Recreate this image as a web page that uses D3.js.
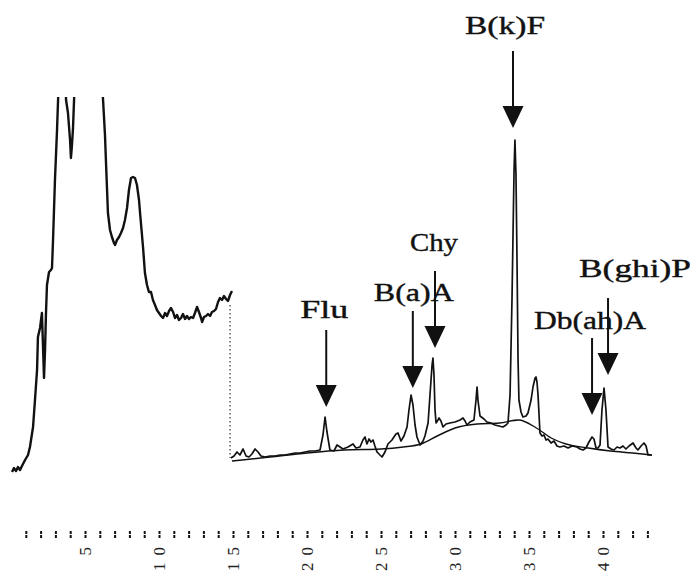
<html>
<head>
<style>
  body { margin: 0; background: #fff; }
  .trace { fill: none; stroke: #111; stroke-linejoin: round; }
  .lbl { font-family: "Liberation Serif", "DejaVu Serif", serif; fill: #111; stroke: #111; stroke-width: 0.4; }
</style>
</head>
<body>
<svg id="chart" width="690" height="573"></svg>
<script src="https://cdn.jsdelivr.net/npm/d3@7"></script>
<script>
// retention time (min) and detector signal, high-gain part
const leftTime = [0.07,0.20,0.34,0.47,0.61,0.74,0.95,1.15,1.28,1.49,1.62,1.76,1.82,1.96,2.09,2.16,2.23,2.30,2.36,2.43,2.57,2.70,2.77,2.84,2.97,3.11,3.18,3.31,3.51,3.65,3.72,3.85,3.99,4.05,4.12,4.19,4.26,4.39,4.80,5.47,5.95,6.15,6.22,6.35,6.42,6.55,6.69,6.82,6.96,7.03,7.16,7.30,7.43,7.57,7.70,7.84,7.97,8.11,8.24,8.38,8.51,8.65,8.72,8.85,8.92,9.05,9.19,9.32,9.46,9.59,9.73,9.86,10.0,10.14,10.27,10.41,10.54,10.68,10.81,10.95,11.08,11.22,11.35,11.49,11.62,11.76,11.89,12.03,12.16,12.30,12.43,12.57,12.70,12.84,12.91,13.04,13.18,13.31,13.45,13.58,13.72,13.85,13.99,14.12,14.26,14.39,14.53,14.66,14.80,14.93];
const leftSignal = [8,12,9,13,10,14,20,25,33,53,80,110,143,152,167,135,102,130,165,195,208,210,212,240,300,350,380,420,440,410,380,367,340,322,335,352,380,420,455,460,430,400,380,345,317,267,250,243,237,235,240,243,247,252,260,272,290,302,303,302,295,280,267,245,233,207,195,188,188,180,175,170,167,164,162,167,164,169,172,168,162,165,160,162,166,161,164,161,163,162,167,173,168,162,158,163,164,166,164,168,169,171,178,182,180,184,181,179,185,189];

// low-gain part after the range switch
const rightTime = [14.86,15.07,15.27,15.47,15.68,15.88,16.08,16.28,16.49,16.69,16.89,17.16,17.50,17.84,18.18,18.51,18.85,19.19,19.53,19.86,20.20,20.54,20.88,21.08,21.22,21.35,21.55,21.82,22.03,22.23,22.43,22.77,23.11,23.31,23.58,23.78,23.92,24.05,24.19,24.32,24.46,24.59,24.73,24.93,25.07,25.27,25.47,25.74,26.01,26.15,26.35,26.55,26.76,26.89,27.03,27.16,27.30,27.43,27.64,27.84,27.97,28.18,28.31,28.45,28.51,28.58,28.65,28.72,28.85,28.92,29.05,29.19,29.39,29.66,30.00,30.34,30.54,30.68,30.81,31.01,31.28,31.42,31.49,31.55,31.69,31.96,32.16,32.43,32.70,32.97,33.24,33.45,33.58,33.72,33.85,33.99,34.05,34.12,34.19,34.26,34.32,34.46,34.59,34.80,34.93,35.14,35.27,35.41,35.47,35.54,35.61,35.68,35.74,35.88,36.01,36.15,36.28,36.49,36.69,36.89,37.09,37.36,37.64,37.91,38.24,38.45,38.65,38.85,39.05,39.26,39.39,39.53,39.66,39.80,39.93,40.07,40.20,40.34,40.54,40.74,40.95,41.15,41.35,41.55,41.76,42.03,42.23,42.36,42.57,42.77,42.91,43.04,43.31];
const rightSignal = [22,24,28,25,31,24,23,26,31,28,24,23,24,24,25,25,26,27,27,28,29,29,30,45,63,48,30,29,35,33,31,33,36,32,33,40,43,36,41,38,40,34,28,25,23,28,36,40,46,47,39,44,53,70,85,75,55,43,35,39,44,57,85,115,122,105,70,57,60,62,59,53,56,57,58,60,62,59,55,58,60,80,93,80,64,61,58,57,55,54,53,55,57,85,180,310,340,305,220,120,80,68,63,64,67,80,93,102,103,98,85,65,47,44,45,40,41,37,39,34,33,34,32,34,33,31,30,32,38,43,41,32,32,35,70,92,70,33,31,30,33,32,34,31,34,37,32,30,34,37,34,25,25];

// drawn baseline under the low-gain trace
const baseTime = [14.93,17.5,20.0,22.5,25.0,26.5,27.7,28.8,30.0,31.5,33.0,34.3,35.5,36.5,37.5,39.0,40.5,42.0,43.3];
const baseSignal = [19,23,27,30,31,33,36,44,52,56,57,60,52,42,36,32,29,27,25];

// range switch marker
const switchTime = 14.8;
const switchFrom = 175;
const switchTo = 22;

// peak annotations
const peakNames = ["Flu", "B(a)A", "Chy", "B(k)F", "Db(ah)A", "B(ghi)P"];
const peakTimes = [21.3, 27.15, 28.65, 33.92, 39.26, 40.34];
const peakHeights = [63, 85, 122, 340, 43, 92];

const tickValues = d3.range(1, 44);

// layout of the annotation arrows (pixels)
const tipGap = [10, 7, 10, 12, 22, 13];
const labelGap = [12, 10, 20, 17, 9, 21];
const labelShift = [-2, 1, -1, -8, -2, 27];
const arrowLen = 77, headLen = 22, headW = 21;

const svg = d3.select("#chart");
const x = d3.scaleLinear().domain([0, 40]).range([11, 603]);
const y = d3.scaleLinear().domain([0, 400]).range([480, 80]);
const yClip = 383;

svg.append("defs").append("clipPath").attr("id", "clip")
  .append("rect")
  .attr("x", 0).attr("y", y(yClip))
  .attr("width", 690).attr("height", 573 - y(yClip));

const line = d3.line().x(d => x(d[0])).y(d => y(d[1]));
const smooth = d3.line().x(d => x(d[0])).y(d => y(d[1])).curve(d3.curveMonotoneX);
const zip = (a, b) => a.map((v, i) => [v, b[i]]);

const plot = svg.append("g").attr("clip-path", "url(#clip)");

plot.append("path").attr("class", "trace")
  .attr("d", line(zip(leftTime, leftSignal)))
  .attr("stroke-width", 2.4);

plot.append("line")
  .attr("x1", x(switchTime)).attr("x2", x(switchTime))
  .attr("y1", y(switchFrom)).attr("y2", y(switchTo))
  .attr("stroke", "#333").attr("stroke-width", 1.2)
  .attr("stroke-dasharray", "1.5,2.5");

plot.append("path").attr("class", "trace")
  .attr("d", smooth(zip(baseTime, baseSignal)))
  .attr("stroke-width", 1.4);

plot.append("path").attr("class", "trace")
  .attr("d", line(zip(rightTime, rightSignal)))
  .attr("stroke-width", 1.7);

// annotations
const ann = svg.append("g");
peakNames.forEach((name, i) => {
  const ax = x(peakTimes[i]);
  const tip = y(peakHeights[i]) - tipGap[i];
  const top = tip - arrowLen;
  ann.append("line")
    .attr("x1", ax).attr("x2", ax)
    .attr("y1", top).attr("y2", tip - headLen + 2)
    .attr("stroke", "#111").attr("stroke-width", 2);
  ann.append("path")
    .attr("d", `M${ax - headW / 2},${tip - headLen}L${ax + headW / 2},${tip - headLen}L${ax},${tip}Z`)
    .attr("fill", "#111");
  ann.append("text").attr("class", "lbl")
    .attr("x", ax + labelShift[i]).attr("y", top - labelGap[i])
    .attr("text-anchor", "middle")
    .attr("font-size", 26)
    .attr("textLength", name.length * 16)
    .attr("lengthAdjust", "spacingAndGlyphs")
    .text(name);
});

// time axis
const axis = svg.append("g").attr("transform", "translate(0,531)")
  .call(d3.axisBottom(x).tickValues(tickValues).tickSize(8)
    .tickFormat(d => d % 5 === 0 ? d : ""));
axis.select(".domain").remove();
axis.selectAll(".tick line").attr("stroke", "#111").attr("stroke-width", 2)
  .attr("stroke-dasharray", "3,1");
axis.selectAll(".tick text")
  .attr("y", 0).attr("dy", null)
  .attr("transform", "translate(0,9) rotate(-90)")
  .attr("text-anchor", "end")
  .attr("dominant-baseline", "central")
  .attr("font-family", "Liberation Serif, serif")
  .attr("font-size", 17)
  .attr("letter-spacing", 7)
  .attr("fill", "#222");
</script>
</body>
</html>
